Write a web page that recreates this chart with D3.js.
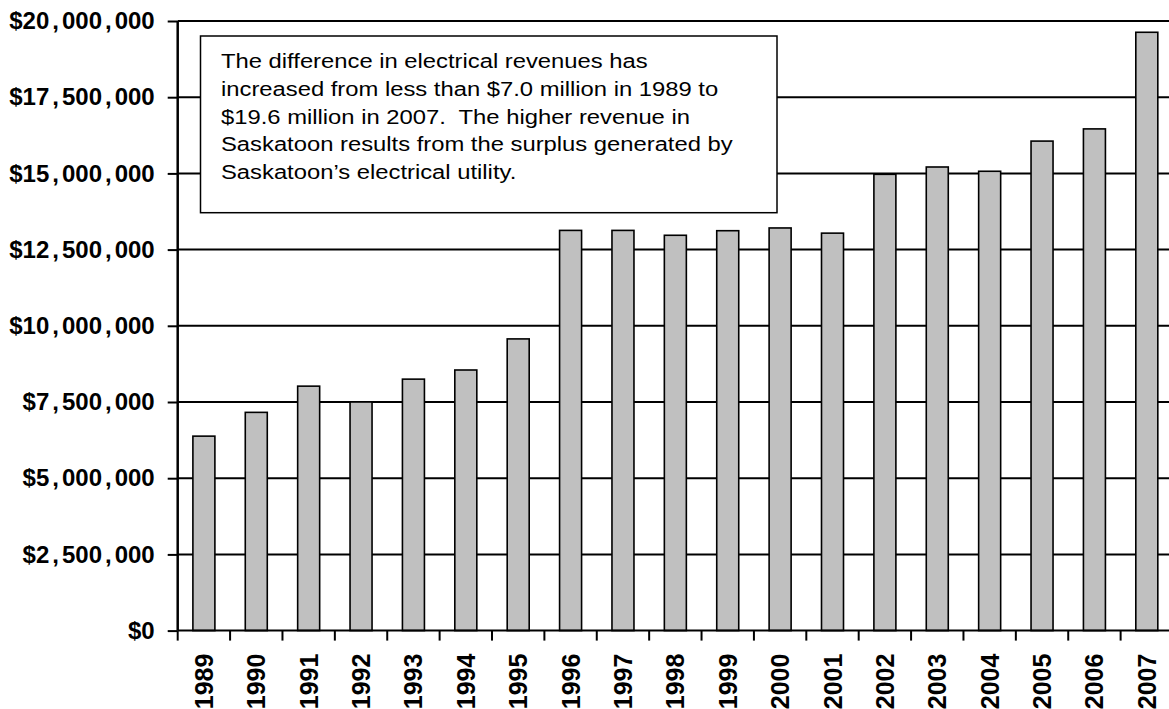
<!DOCTYPE html>
<html>
<head>
<meta charset="utf-8">
<script src="https://cdn.jsdelivr.net/npm/d3@7"></script>
<style>
  html, body { margin: 0; padding: 0; background: #fff; }
  svg { display: block; }
  text { font-family: Arial, "Liberation Sans", sans-serif; }
</style>
</head>
<body>
<svg id="chart" width="1169" height="709"></svg>
<script>
// Data
const years = ["1989","1990","1991","1992","1993","1994","1995","1996","1997","1998",
               "1999","2000","2001","2002","2003","2004","2005","2006","2007"];
const revenueDifference = [6380000, 7160000, 8020000, 7500000, 8250000, 8550000, 9570000,
                           13130000, 13130000, 12970000, 13120000, 13210000, 13040000,
                           14970000, 15210000, 15070000, 16060000, 16460000, 19630000];
const yTicks = [0, 2500000, 5000000, 7500000, 10000000, 12500000, 15000000, 17500000, 20000000];
const noteLines = [
  "The difference in electrical revenues has",
  "increased from less than $7.0 million in 1989 to",
  "$19.6 million in 2007.  The higher revenue in",
  "Saskatoon results from the surplus generated by",
  "Saskatoon\u2019s electrical utility."
];

const svg = d3.select("#chart");
const plotLeft = 177.7, plotRight = 1173, plotTop = 21, plotBottom = 630.6;

const x = d3.scaleBand().domain(years).range([plotLeft, plotRight]).paddingInner(0.58).paddingOuter(0.29);
const y = d3.scaleLinear().domain([0, 20000000]).range([plotBottom, plotTop]);

// gridlines
svg.append("g").selectAll("line").data(yTicks.filter(d => d > 0)).join("line")
  .attr("x1", plotLeft).attr("x2", plotRight)
  .attr("y1", d => y(d)).attr("y2", d => y(d))
  .attr("stroke", "#000").attr("stroke-width", 2);

// bars
svg.append("g").selectAll("rect").data(years).join("rect")
  .attr("x", d => x(d))
  .attr("width", x.bandwidth())
  .attr("y", (d, i) => y(revenueDifference[i]))
  .attr("height", (d, i) => y(0) - y(revenueDifference[i]))
  .attr("fill", "#c0c0c0").attr("stroke", "#000").attr("stroke-width", 1.6);

// y axis
const fmt = d => "$" + d3.format(",")(d);
const yAxis = d3.axisLeft(y).tickValues(yTicks).tickSize(10).tickPadding(13).tickFormat(fmt);
const gy = svg.append("g").attr("transform", `translate(${plotLeft},0)`).call(yAxis);
gy.select(".domain").attr("stroke", "#000").attr("stroke-width", 2.5).attr("d", `M0,${plotBottom}V${plotTop}`);
gy.selectAll(".tick line").attr("stroke", "#000").attr("stroke-width", 2);
gy.selectAll(".tick text").attr("font-family", "Arial, 'Liberation Sans', sans-serif")
  .attr("font-size", 24).attr("font-weight", "bold").attr("fill", "#000")
  .each(function(d) {
    const el = d3.select(this);
    const parts = fmt(d).split(",");
    el.text(null);
    parts.forEach((p, i) => {
      if (i > 0) {
        el.append("tspan").attr("dx", 3).text(",");
        el.append("tspan").attr("dx", 3).text(p);
      } else {
        el.append("tspan").text(p);
      }
    });
  });

// x axis
const xAxis = d3.axisBottom(x).tickSize(0).tickPadding(0);
const gx = svg.append("g").attr("transform", `translate(0,${plotBottom})`).call(xAxis);
gx.select(".domain").attr("stroke", "#000").attr("stroke-width", 2).attr("d", `M${plotLeft},0H${plotRight}`);
const bounds = d3.range(years.length + 1).map(i => plotLeft + i * x.step());
gx.selectAll(".bt").data(bounds).join("line").attr("class", "bt")
  .attr("x1", d => d).attr("x2", d => d).attr("y1", 0).attr("y2", 10)
  .attr("stroke", "#000").attr("stroke-width", 2);
gx.selectAll(".tick text")
  .attr("font-family", "Arial, 'Liberation Sans', sans-serif")
  .attr("font-size", 25).attr("font-weight", "bold").attr("fill", "#000")
  .attr("text-anchor", "end")
  .attr("transform", "translate(0,23) rotate(-90)")
  .attr("dy", "0.36em").attr("x", 0).attr("y", 0);

// note box
const note = svg.append("g");
note.append("rect").attr("x", 200.5).attr("y", 36).attr("width", 576.5).attr("height", 176.7)
  .attr("fill", "#fff").attr("stroke", "#000").attr("stroke-width", 1.5);
const nt = note.append("g").attr("transform", "translate(221,0) scale(1.19,1)");
nt.selectAll("text").data(noteLines).join("text")
  .attr("x", 0).attr("y", (d, i) => 68 + i * 27.8)
  .attr("font-size", 20).attr("fill", "#000")
  .style("white-space", "pre")
  .text(d => d);
</script>
</body>
</html>
